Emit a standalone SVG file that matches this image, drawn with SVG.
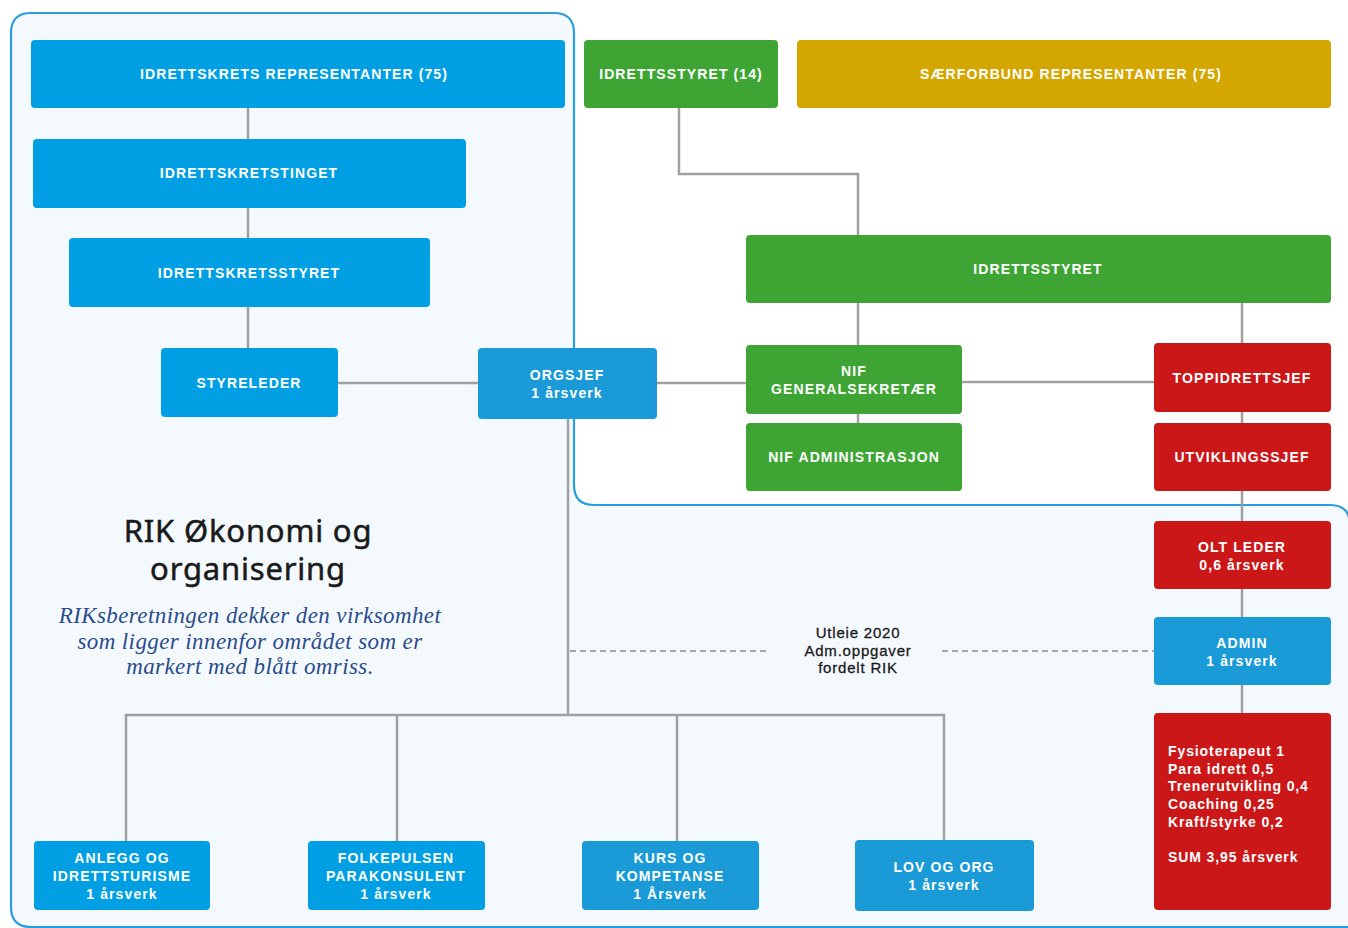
<svg xmlns="http://www.w3.org/2000/svg" width="1348" height="928" viewBox="0 0 1348 928">
<style>
.b{fill:#009fe3}
.b2{fill:#1a9ad6}
.g{fill:#3ea535}
.y{fill:#d4a600}
.r{fill:#cc1719}
.t{font-family:"Liberation Sans",Arial,sans-serif;font-weight:bold;font-size:14px;fill:#ffffff;text-anchor:middle;letter-spacing:1.1px}
.tl{font-family:"Liberation Sans",Arial,sans-serif;font-weight:bold;font-size:14px;fill:#ffffff;letter-spacing:0.9px}
.c{stroke:#a0a0a0;stroke-width:2.5;fill:none}
.d{stroke:#a8a8a8;stroke-width:2;fill:none;stroke-dasharray:6 4}
</style>
<rect width="1348" height="928" fill="#ffffff"/>
<path id="outline" d="M31 13 H554 Q574 13 574 33 V485 Q574 505 594 505 H1330 Q1350 505 1350 525 V927 H31 Q11 927 11 907 V33 Q11 13 31 13 Z" fill="#f4f9fe" stroke="#2a9ee0" stroke-width="2.2"/>
<g id="connectors">
<path class="c" d="M248 108 V139 M248 208 V238 M248 307 V348"/>
<path class="c" d="M338 383 H478 M657 383 H746 M962 382 H1154"/>
<path class="c" d="M679 108 V174 H858 V235"/>
<path class="c" d="M858 303 V345 M858 414 V423 M1242 303 V343"/>
<path class="c" d="M1242 412 V423 M1242 491 V521 M1242 589 V617 M1242 685 V713"/>
<path class="c" d="M568 419 V715 M126 841 V715 H944 V841 M397 715 V841 M677 715 V841"/>
<path class="d" d="M570 651 H770 M942 651 H1154"/>
</g>
<g id="n1"><rect class="b" x="31" y="40" width="534" height="68" rx="4"/><text class="t" x="294" y="79">IDRETTSKRETS REPRESENTANTER (75)</text></g>
<g id="n2"><rect class="b" x="33" y="139" width="433" height="69" rx="4"/><text class="t" x="249" y="178">IDRETTSKRETSTINGET</text></g>
<g id="n3"><rect class="b" x="69" y="238" width="361" height="69" rx="4"/><text class="t" x="249" y="278">IDRETTSKRETSSTYRET</text></g>
<g id="n4"><rect class="b" x="161" y="348" width="177" height="69" rx="4"/><text class="t" x="249" y="388">STYRELEDER</text></g>
<g id="n5"><rect class="b2" x="478" y="348" width="179" height="71" rx="4"/><text class="t" x="567" y="380">ORGSJEF</text><text class="t" x="567" y="398">1 årsverk</text></g>
<g id="n6"><rect class="g" x="584" y="40" width="194" height="68" rx="4"/><text class="t" x="681" y="79">IDRETTSSTYRET (14)</text></g>
<g id="n7"><rect class="y" x="797" y="40" width="534" height="68" rx="4"/><text class="t" x="1071" y="79">SÆRFORBUND REPRESENTANTER (75)</text></g>
<g id="n8"><rect class="g" x="746" y="235" width="585" height="68" rx="4"/><text class="t" x="1038" y="274">IDRETTSSTYRET</text></g>
<g id="n9"><rect class="g" x="746" y="345" width="216" height="69" rx="4"/><text class="t" x="854" y="376">NIF</text><text class="t" x="854" y="394">GENERALSEKRETÆR</text></g>
<g id="n10"><rect class="g" x="746" y="423" width="216" height="68" rx="4"/><text class="t" x="854" y="462">NIF ADMINISTRASJON</text></g>
<g id="n11"><rect class="r" x="1154" y="343" width="177" height="69" rx="4"/><text class="t" x="1242" y="383">TOPPIDRETTSJEF</text></g>
<g id="n12"><rect class="r" x="1154" y="423" width="177" height="68" rx="4"/><text class="t" x="1242" y="462">UTVIKLINGSSJEF</text></g>
<g id="n13"><rect class="r" x="1154" y="521" width="177" height="68" rx="4"/><text class="t" x="1242" y="552">OLT LEDER</text><text class="t" x="1242" y="570">0,6 årsverk</text></g>
<g id="n14"><rect class="b2" x="1154" y="617" width="177" height="68" rx="4"/><text class="t" x="1242" y="648">ADMIN</text><text class="t" x="1242" y="666">1 årsverk</text></g>
<g id="n15"><rect class="r" x="1154" y="713" width="177" height="197" rx="4"/>
<text class="tl" x="1168" y="756">Fysioterapeut 1</text>
<text class="tl" x="1168" y="774">Para idrett 0,5</text>
<text class="tl" x="1168" y="791">Trenerutvikling 0,4</text>
<text class="tl" x="1168" y="809">Coaching 0,25</text>
<text class="tl" x="1168" y="827">Kraft/styrke 0,2</text>
<text class="tl" x="1168" y="862">SUM 3,95 årsverk</text></g>
<g id="n16"><rect class="b" x="34" y="841" width="176" height="69" rx="4"/><text class="t" x="122" y="863">ANLEGG OG</text><text class="t" x="122" y="881">IDRETTSTURISME</text><text class="t" x="122" y="899">1 årsverk</text></g>
<g id="n17"><rect class="b" x="308" y="841" width="177" height="69" rx="4"/><text class="t" x="396" y="863">FOLKEPULSEN</text><text class="t" x="396" y="881">PARAKONSULENT</text><text class="t" x="396" y="899">1 årsverk</text></g>
<g id="n18"><rect class="b2" x="582" y="841" width="177" height="69" rx="4"/><text class="t" x="670" y="863">KURS OG</text><text class="t" x="670" y="881">KOMPETANSE</text><text class="t" x="670" y="899">1 Årsverk</text></g>
<g id="n19"><rect class="b2" x="855" y="840" width="179" height="71" rx="4"/><text class="t" x="944" y="872">LOV OG ORG</text><text class="t" x="944" y="890">1 årsverk</text></g>
<g id="label" font-family="'Liberation Sans',Arial,sans-serif" font-size="15" fill="#1a1a1a" stroke="#1a1a1a" stroke-width="0.3" letter-spacing="0.8" text-anchor="middle">
<text x="858" y="638">Utleie 2020</text><text x="858" y="656">Adm.oppgaver</text><text x="858" y="673">fordelt RIK</text></g>
<g id="title" font-family="'Noto Sans',sans-serif" font-size="31" fill="#1a1a1a" stroke="#1a1a1a" stroke-width="0.5" letter-spacing="0.8" text-anchor="middle">
<text x="248" y="542">RIK Økonomi og</text><text x="248" y="580">organisering</text></g>
<g id="desc" font-family="'Liberation Serif','Times New Roman',serif" font-style="italic" font-size="23" fill="#2b4c8c" letter-spacing="0.4" text-anchor="middle">
<text x="250" y="623">RIKsberetningen dekker den virksomhet</text>
<text x="250" y="649">som ligger innenfor området som er</text>
<text x="250" y="674">markert med blått omriss.</text></g>
</svg>
